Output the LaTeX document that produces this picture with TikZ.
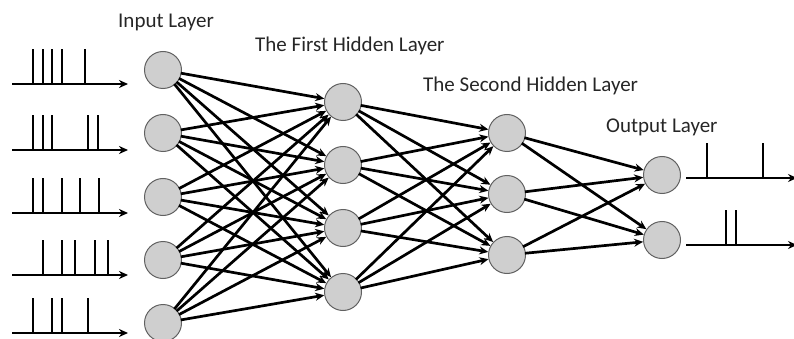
\documentclass[tikz,border=0pt]{standalone}
\usepackage{fontspec}
\setmainfont{Carlito}
\usetikzlibrary{arrows.meta}
\begin{document}
\begin{tikzpicture}[x=1pt,y=-1pt,
  neuron/.style={circle,draw=black!62,line width=1pt,fill=black!19,minimum size=37pt,inner sep=0pt},
  syn/.style={line width=2.7pt,-{Stealth[length=9pt,width=8pt]},shorten <=-1pt},
  axis/.style={line width=2.7pt,-{Stealth[length=9pt,width=8pt]}},
  spike/.style={line width=2.7pt},
  lbl/.style={anchor=base west,font=\fontsize{21}{24}\selectfont,text=black!85,inner sep=0pt}]
\useasboundingbox (0,0) rectangle (794,339);
\clip (0,0) rectangle (794,339);

% layer captions
\node[lbl] (tin)  at (118,28)  {Input Layer};
\node[lbl] (th1)  at (255,52)  {The First Hidden Layer};
\node[lbl] (th2)  at (423,92)  {The Second Hidden Layer};
\node[lbl] (tout) at (606,133) {Output Layer};

% neurons
\foreach \i/\y in {1/70,2/133,3/197,4/260,5/323}
  \node[neuron] (i\i) at (163,\y) {};
\foreach \i/\y in {1/102,2/165,3/228,4/292}
  \node[neuron] (a\i) at (343,\y) {};
\foreach \i/\y in {1/133,2/194,3/255}
  \node[neuron] (b\i) at (507,\y) {};
\foreach \i/\y in {1/175,2/240}
  \node[neuron] (o\i) at (662,\y) {};

% fully connected synapses
\foreach \s in {1,...,5}
  \foreach \t in {1,...,4}
    \draw[syn] (i\s) -- (a\t);
\foreach \s in {1,...,4}
  \foreach \t in {1,...,3}
    \draw[syn] (a\s) -- (b\t);
\foreach \s in {1,...,3}
  \foreach \t in {1,...,2}
    \draw[syn] (b\s) -- (o\t);

% input spike trains
\foreach \k/\y/\xs in {1/84/{33,43,52,62,85},
                       2/150/{33,43,52,88,98},
                       3/213/{33,43,62,80,99},
                       4/275/{43,62,75,95,108},
                       5/333/{33,52,62,88}} {
  \coordinate (s\k a) at (12,\y);
  \coordinate (s\k b) at (128,\y);
  \draw[axis] (s\k a) -- (s\k b);
  \foreach \x in \xs
    \draw[spike] (\x,\y) -- ++(0,-35);
}

% output spike trains
\coordinate (r1a) at (686,178);
\coordinate (r1b) at (797,178);
\draw[axis] (r1a) -- (r1b);
\foreach \x in {707,763}
  \draw[spike] (\x,178) -- ++(0,-35);
\coordinate (r2a) at (686,245);
\coordinate (r2b) at (797,245);
\draw[axis] (r2a) -- (r2b);
\foreach \x in {726,736}
  \draw[spike] (\x,245) -- ++(0,-35);
\end{tikzpicture}
\end{document}
